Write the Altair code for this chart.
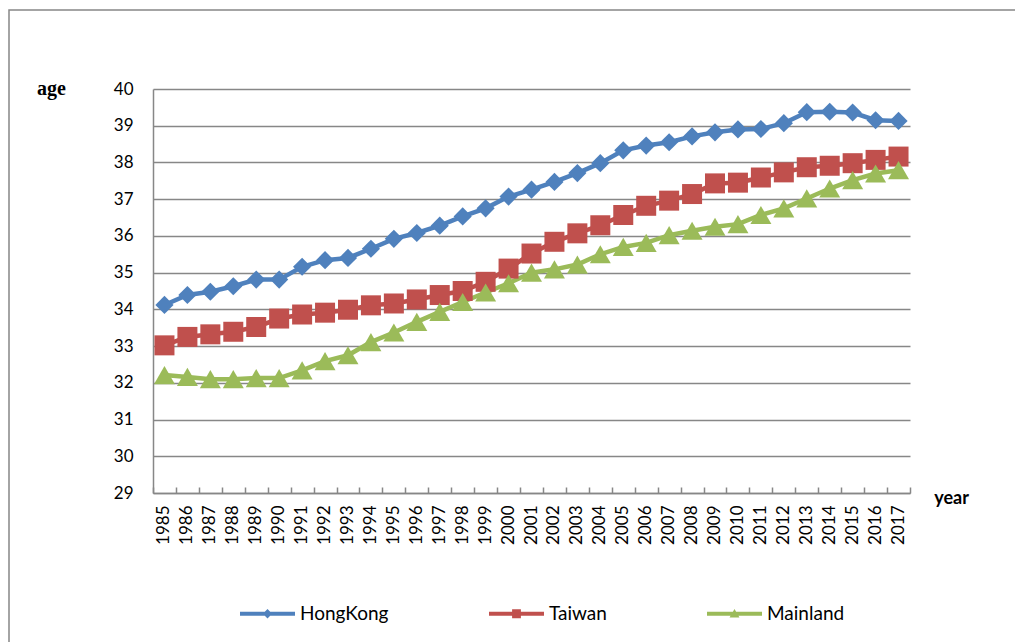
import altair as alt
import pandas as pd

# Median age by year for three regions
years = list(range(1985, 2018))
hongkong = [34.12, 34.39, 34.48, 34.63, 34.81, 34.81, 35.16, 35.34, 35.40, 35.65, 35.92,
            36.08, 36.28, 36.53, 36.75, 37.07, 37.26, 37.47, 37.71, 37.98, 38.33, 38.46,
            38.55, 38.71, 38.82, 38.90, 38.91, 39.07, 39.37, 39.38, 39.36, 39.15, 39.13]
taiwan = [33.02, 33.25, 33.32, 33.39, 33.52, 33.75, 33.86, 33.91, 33.99, 34.11, 34.16,
          34.27, 34.39, 34.50, 34.75, 35.11, 35.52, 35.84, 36.07, 36.29, 36.57, 36.82,
          36.96, 37.14, 37.43, 37.45, 37.59, 37.73, 37.87, 37.91, 37.98, 38.07, 38.16]
mainland = [32.21, 32.16, 32.10, 32.10, 32.13, 32.13, 32.34, 32.59, 32.75, 33.11, 33.37,
            33.66, 33.93, 34.20, 34.46, 34.71, 35.00, 35.09, 35.22, 35.50, 35.70, 35.81,
            36.02, 36.14, 36.25, 36.32, 36.57, 36.75, 37.02, 37.29, 37.52, 37.70, 37.79]

series_names = ["HongKong", "Taiwan", "Mainland"]
series_colors = ["#4F81BD", "#C0504D", "#9BBB59"]
marker_shapes = ["diamond", "square", "triangle-up"]
marker_sizes = [330, 400, 440]

# Legend swatches: a line segment with the series marker on it
legend_symbols = [
    "M-1,-0.07L1,-0.07L1,0.07L-1,0.07Z M0,-0.17L0.17,0L0,0.17L-0.17,0Z",
    "M-1,-0.07L1,-0.07L1,0.07L-1,0.07Z M-0.16,-0.16L0.16,-0.16L0.16,0.16L-0.16,0.16Z",
    "M-1,-0.07L1,-0.07L1,0.07L-1,0.07Z M0,-0.17L0.18,0.14L-0.18,0.14Z",
]

rows = []
for name, vals in zip(series_names, [hongkong, taiwan, mainland]):
    for yr, v in zip(years, vals):
        rows.append({"year": str(yr), "series": name, "age": v})
df = pd.DataFrame(rows)

GRAY = "#878787"
FONT = "Lato"
W, H = 757, 404

year_labels = [str(y) for y in years]
x_scale = alt.Scale(type="band", domain=year_labels, paddingInner=0, paddingOuter=0)
y_scale = alt.Scale(domain=[29, 40], nice=False, zero=False)

y_axis = alt.Axis(
    values=list(range(29, 41)), ticks=False, domain=True, domainColor=GRAY, domainWidth=1.5,
    grid=True, gridColor=GRAY, gridWidth=1.3,
    labelFont=FONT, labelFontSize=17, labelColor="black", labelPadding=20,
    title="age", titleFont="Liberation Serif", titleFontWeight="bold", titleFontSize=20,
    titleColor="black", titleAngle=0, titleX=-102, titleY=-1,
    titleAlign="center", titleBaseline="middle",
)

x_label_axis = alt.Axis(
    orient="bottom", ticks=False, domain=True, domainColor=GRAY, domainWidth=1.5, grid=False,
    labelAngle=270, labelFont=FONT, labelFontSize=17, labelColor="black", labelPadding=12,
    title="year", titleFont=FONT, titleFontWeight="bold", titleFontSize=18, titleColor="black",
    titleAngle=0, titleX=798, titleY=5, titleAlign="center", titleBaseline="middle",
)

# Tick marks at band edges pointing up into the plot
x_tick_axis = alt.Axis(
    orient="top", offset=-H, labels=False, domain=False, ticks=True, tickSize=6,
    tickColor=GRAY, tickWidth=1.5, tickBand="extent", grid=False, title="",
)

legend_spec = alt.Legend(
    orient="none", direction="horizontal", columns=3, legendX=87, legendY=497,
    columnPadding=100, labelOffset=5, labelFont=FONT, labelFontSize=19, labelColor="black",
    title="", padding=0, symbolSize=3025, symbolStrokeWidth=0, symbolOpacity=1,
)

base = alt.Chart(df)

lines = base.mark_line(strokeWidth=4.5).encode(
    x=alt.X("year:O", scale=x_scale, axis=x_label_axis, bandPosition=0.5),
    y=alt.Y("age:Q", scale=y_scale, axis=y_axis),
    stroke=alt.Stroke("series:N", scale=alt.Scale(domain=series_names, range=series_colors), legend=None),
    detail="series:N",
)

# One marker layer per series, each with its own shape and size
marker_layers = []
for i, (name, shp, sz) in enumerate(zip(series_names, marker_shapes, marker_sizes)):
    marker_layers.append(
        base.transform_filter(alt.datum.series == name)
        .mark_point(filled=True, opacity=1, strokeWidth=0, shape=shp, size=sz)
        .encode(
            x=alt.X("year:O", scale=x_scale, axis=x_tick_axis if i == 0 else None, bandPosition=0.5),
            y=alt.Y("age:Q", scale=y_scale, axis=y_axis),
            fill=alt.Fill("series:N", scale=alt.Scale(domain=series_names, range=series_colors), legend=None),
        )
    )

# Invisible layer that only supplies the legend
legend_layer = base.mark_point(filled=True, opacity=0).encode(
    x=alt.X("year:O", scale=x_scale, axis=None, bandPosition=0.5),
    y=alt.Y("age:Q", scale=y_scale, axis=y_axis),
    color=alt.Color("series:N", scale=alt.Scale(domain=series_names, range=series_colors), legend=legend_spec),
    shape=alt.Shape("series:N", scale=alt.Scale(domain=series_names, range=legend_symbols), legend=legend_spec),
)

frame = alt.Chart(alt.Data(values=[{"k": 0}])).mark_rect(
    fill="white", fillOpacity=0, stroke=GRAY, strokeWidth=1.5
).encode(
    x=alt.value(-144), x2=alt.value(W + 200), y=alt.value(-79), y2=alt.value(H + 200)
)

chart = (
    alt.layer(frame, lines, *marker_layers, legend_layer)
    .resolve_axis(x="independent")
    .resolve_scale(color="independent", shape="independent")
    .properties(
        width=W, height=H,
        autosize=alt.AutoSizeParams(type="none"),
        padding={"left": 153, "top": 89, "right": 105, "bottom": 149},
        background="white",
    )
    .configure_view(strokeWidth=0)
)

chart.save("out.html", embed_options={"renderer": "svg", "actions": False})
